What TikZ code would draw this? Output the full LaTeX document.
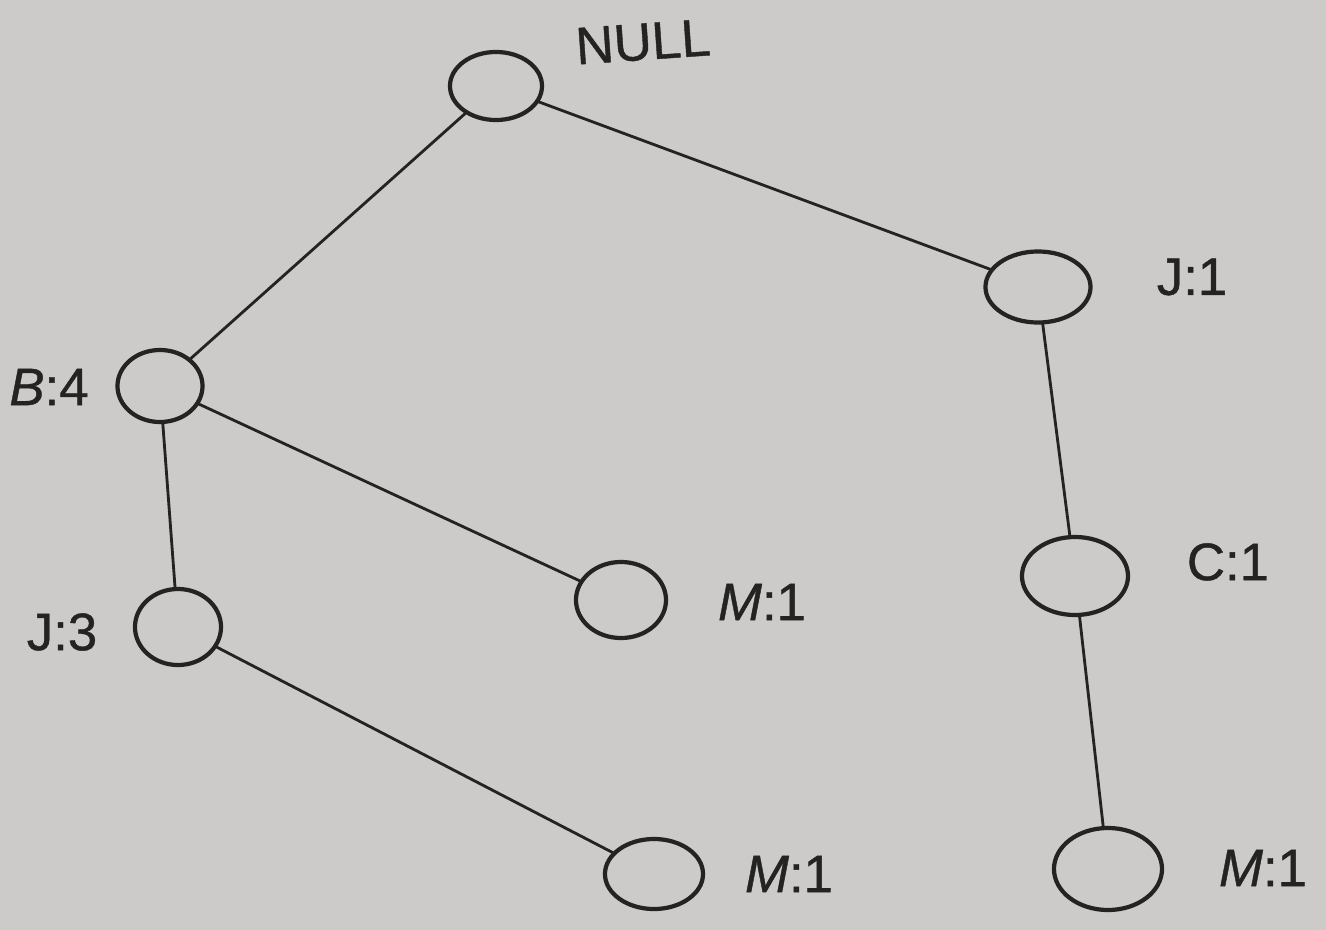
\documentclass[tikz,border=0pt]{standalone}
\usepackage{fontspec}
\setmainfont{Liberation Sans}[BoldFont=Liberation Sans, BoldItalicFont=Liberation Sans Italic,
  BoldFeatures={FakeBold=0.8}, BoldItalicFeatures={FakeBold=0.8}]
\usetikzlibrary{shapes.geometric}
\definecolor{paper}{RGB}{204,203,201}
\definecolor{ink}{RGB}{35,35,35}
\begin{document}
\begin{tikzpicture}[x=0.01cm, y=-0.01cm]
\tikzset{ inner sep=0pt, outer sep=0pt,
  nd/.style={draw=ink, ellipse, line width=1.2pt},
  lbl/.style={text=ink, font=\fontsize{15}{18}\selectfont\bfseries},
  edge/.style={draw=ink, line width=0.8pt} }

\fill [paper] (0,0) rectangle (1326,930);

% tree nodes
\node [nd, minimum width=0.92cm, minimum height=0.68cm] (null) at (496,86)   {};
\node [nd, minimum width=1.05cm, minimum height=0.71cm] (j1)   at (1038,287) {};
\node [nd, minimum width=0.85cm, minimum height=0.72cm] (b4)   at (160,386)  {};
\node [nd, minimum width=0.86cm, minimum height=0.76cm] (j3)   at (178,627)  {};
\node [nd, minimum width=0.90cm, minimum height=0.76cm] (m1a)  at (621,600)  {};
\node [nd, minimum width=1.06cm, minimum height=0.78cm] (c1)   at (1075,576) {};
\node [nd, minimum width=0.98cm, minimum height=0.70cm] (m1b)  at (654,874)  {};
\node [nd, minimum width=1.08cm, minimum height=0.82cm] (m1c)  at (1108,869) {};

\draw [edge] (null) -- (b4);
\draw [edge] (null) -- (j1);
\draw [edge] (b4)   -- (j3);
\draw [edge] (b4)   -- (m1a);
\draw [edge] (j3)   -- (m1b);
\draw [edge] (j1)   -- (c1);
\draw [edge] (c1)   -- (m1c);

% counts
\node [lbl, rotate=4] (lnull) at (643,42)  {NULL};
\node [lbl] (lj1)  at (1192,277) {J:1};
\node [lbl] (lb4)  at (49,387)   {\textit{B}:4};
\node [lbl] (lj3)  at (62,632)   {J:3};
\node [lbl] (lm1a) at (762,602)  {\textit{M}:1};
\node [lbl] (lc1)  at (1228,562) {C:1};
\node [lbl] (lm1b) at (789,874)  {\textit{M}:1};
\node [lbl] (lm1c) at (1263,868) {\textit{M}:1};
\end{tikzpicture}
\end{document}
